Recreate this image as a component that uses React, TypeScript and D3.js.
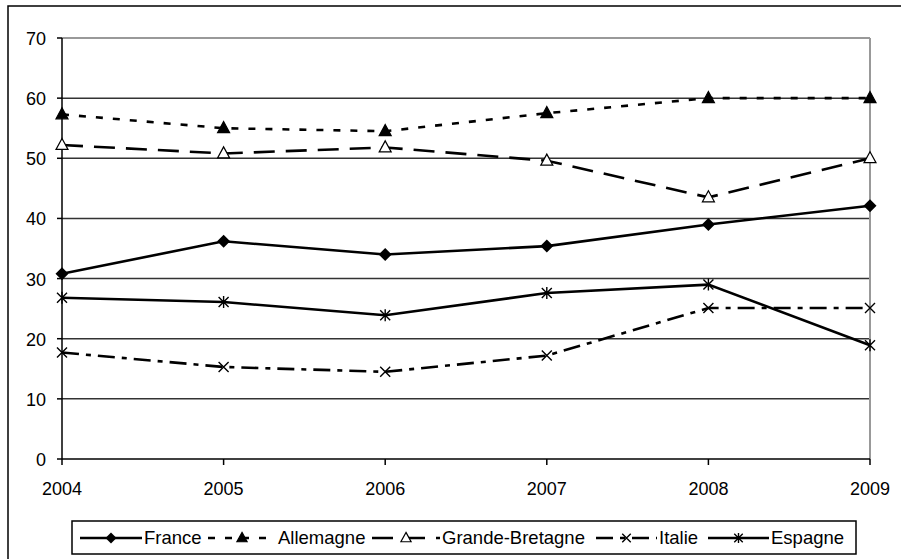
import React from "react";
import * as d3 from "d3";

const years = ["2004", "2005", "2006", "2007", "2008", "2009"];
const france = [30.8, 36.2, 34.0, 35.4, 39.0, 42.1];
const allemagne = [57.3, 55.0, 54.5, 57.5, 60.0, 60.0];
const grandeBretagne = [52.2, 50.8, 51.8, 49.6, 43.5, 50.0];
const italie = [17.7, 15.3, 14.5, 17.2, 25.1, 25.1];
const espagne = [26.8, 26.1, 23.9, 27.6, 29.0, 18.9];
const yTicks = [0, 10, 20, 30, 40, 50, 60, 70];

type Marker = "diamond" | "triangleFilled" | "triangleOpen" | "x" | "asterisk";

const seriesList: { name: string; values: number[]; dash: string; marker: Marker }[] = [
  { name: "France", values: france, dash: "", marker: "diamond" },
  { name: "Allemagne", values: allemagne, dash: "7 10", marker: "triangleFilled" },
  { name: "Grande-Bretagne", values: grandeBretagne, dash: "21 11", marker: "triangleOpen" },
  { name: "Italie", values: italie, dash: "17 7 5 7", marker: "x" },
  { name: "Espagne", values: espagne, dash: "", marker: "asterisk" },
];

const legendPos = [
  { x0: 80, x1: 142, tx: 144 },
  { x0: 208, x1: 276, tx: 278 },
  { x0: 372, x1: 440, tx: 442 },
  { x0: 596, x1: 657, tx: 659 },
  { x0: 708, x1: 769, tx: 771 },
];

const FONT = "'Liberation Sans', Arial, sans-serif";

function MarkerShape({ type, x, y, s = 1 }: { type: Marker; x: number; y: number; s?: number }) {
  if (type === "diamond") {
    const r = 6.5 * s;
    return <path d={`M${x},${y - r}L${x + r},${y}L${x},${y + r}L${x - r},${y}Z`} fill="#000" />;
  }
  if (type === "triangleFilled" || type === "triangleOpen") {
    const w = 6 * s;
    const h = 11 * s;
    return (
      <path
        d={`M${x},${y - h * 0.6}L${x + w},${y + h * 0.4}L${x - w},${y + h * 0.4}Z`}
        fill={type === "triangleFilled" ? "#000" : "#fff"}
        stroke="#000"
        strokeWidth={1.2}
      />
    );
  }
  const r = 5 * s;
  if (type === "x") {
    return (
      <path
        d={`M${x - r},${y - r}L${x + r},${y + r}M${x - r},${y + r}L${x + r},${y - r}`}
        stroke="#000"
        strokeWidth={1.4}
      />
    );
  }
  return (
    <path
      d={`M${x - r},${y - r}L${x + r},${y + r}M${x - r},${y + r}L${x + r},${y - r}M${x},${y - r * 1.2}L${x},${y + r * 1.2}`}
      stroke="#000"
      strokeWidth={1.4}
    />
  );
}

export default function App() {
  const W = 901;
  const H = 559;
  const left = 62;
  const right = 870;
  const top = 38;
  const bottom = 459;
  const x = d3.scalePoint<string>().domain(years).range([left, right]);
  const y = d3.scaleLinear().domain([0, 70]).range([bottom, top]);
  const line = d3
    .line<number>()
    .x((_, i) => x(years[i]) as number)
    .y((d) => y(d));

  return (
    <svg
      width={W}
      height={H}
      style={{ position: "absolute", left: 0, top: 0, background: "#fff" }}
      fontFamily={FONT}
    >
      <rect x={0} y={0} width={W} height={H} fill="#fff" />
      <rect x={8} y={6} width={W + 10} height={H + 10} fill="none" stroke="#000" strokeWidth={1.5} />
      {yTicks
        .filter((t) => t > 0 && t < 70)
        .map((t) => (
          <line key={t} x1={left} x2={right} y1={y(t)} y2={y(t)} stroke="#333" strokeWidth={1.5} />
        ))}
      <line x1={left} x2={right} y1={y(70)} y2={y(70)} stroke="#999" strokeWidth={2} />
      <line x1={right} x2={right} y1={y(70)} y2={bottom} stroke="#999" strokeWidth={2} />
      <line x1={left} x2={left} y1={y(70)} y2={bottom} stroke="#000" strokeWidth={1.5} />
      <line x1={left} x2={right} y1={bottom} y2={bottom} stroke="#000" strokeWidth={1.5} />
      {yTicks.map((t) => (
        <g key={t}>
          <line x1={left - 5} x2={left} y1={y(t)} y2={y(t)} stroke="#000" strokeWidth={1.5} />
          <text x={46} y={y(t) + 7} fontSize={18} textAnchor="end" fill="#000">
            {t}
          </text>
        </g>
      ))}
      {years.map((yr) => (
        <g key={yr}>
          <line x1={x(yr)} x2={x(yr)} y1={bottom} y2={bottom + 6} stroke="#000" strokeWidth={1.5} />
          <text x={x(yr)} y={495} fontSize={18} textAnchor="middle" fill="#000">
            {yr}
          </text>
        </g>
      ))}
      {seriesList.map((s) => (
        <g key={s.name}>
          <path
            d={line(s.values) as string}
            fill="none"
            stroke="#000"
            strokeWidth={2.6}
            strokeDasharray={s.dash || undefined}
          />
          {s.values.map((v, i) => (
            <MarkerShape key={i} type={s.marker} x={x(years[i]) as number} y={y(v)} />
          ))}
        </g>
      ))}
      <rect x={72} y={521} width={784} height={33} fill="#fff" stroke="#000" strokeWidth={1.5} />
      {seriesList.map((s, i) => {
        const p = legendPos[i];
        const ly = 538;
        const mx = (p.x0 + p.x1) / 2;
        return (
          <g key={s.name}>
            <line
              x1={p.x0}
              x2={p.x1}
              y1={ly}
              y2={ly}
              stroke="#000"
              strokeWidth={2.6}
              strokeDasharray={s.dash || undefined}
            />
            <MarkerShape type={s.marker} x={mx} y={ly} s={0.85} />
            <text x={p.tx} y={544} fontSize={18.5} fill="#000">
              {s.name}
            </text>
          </g>
        );
      })}
    </svg>
  );
}
